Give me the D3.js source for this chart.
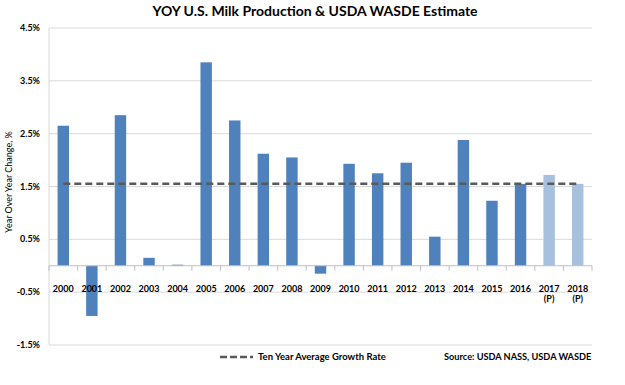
<!DOCTYPE html>
<html>
<head>
<meta charset="utf-8">
<script src="https://cdn.jsdelivr.net/npm/d3@7"></script>
<style>
  body { margin: 0; background: #fff; }
  text { font-family: Lato, "Open Sans", sans-serif; fill: #000; }
</style>
</head>
<body>
<svg width="625" height="385"></svg>
<script>
var years = ["2000","2001","2002","2003","2004","2005","2006","2007","2008","2009",
	"2010","2011","2012","2013","2014","2015","2016","2017","2018"];
var growth = [2.65,-0.95,2.85,0.15,0.02,3.85,2.75,2.12,2.05,-0.15,
	1.93,1.75,1.95,0.55,2.38,1.23,1.55,1.72,1.55];
var projected = ["2017","2018"];
var tenYearAvg = 1.55;
var yTicks = [4.5,3.5,2.5,1.5,0.5,-0.5,-1.5];

var svg = d3.select("svg");
var plotLeft = 49, plotRight = 592, plotTop = 28, plotBottom = 345;

var x = d3.scaleBand().domain(years).range([plotLeft, plotRight]).paddingInner(0.6).paddingOuter(0.3);
var y = d3.scaleLinear().domain([-1.5, 4.5]).range([plotBottom, plotTop]);

// gridlines
svg.append("g").selectAll("line").data(yTicks).enter().append("line")
	.attr("x1", plotLeft).attr("x2", plotRight)
	.attr("y1", function(d) { return y(d); })
	.attr("y2", function(d) { return y(d); })
	.attr("stroke", "#d9d9d9").attr("stroke-width", 1);

// y axis line
svg.append("line")
	.attr("x1", plotLeft).attr("x2", plotLeft).attr("y1", plotTop).attr("y2", plotBottom)
	.attr("stroke", "#d9d9d9");

// y labels
svg.append("g").selectAll("text").data(yTicks).enter().append("text")
	.attr("x", 40).attr("y", function(d) { return y(d) + 3; })
	.attr("text-anchor", "end")
	.style("font-size", "9px").style("font-weight", "bold")
	.text(function(d) { return d.toFixed(1) + "%"; });

// bars
svg.append("g").selectAll("rect").data(years).enter().append("rect")
	.attr("x", function(d) { return x(d); })
	.attr("width", x.bandwidth())
	.attr("y", function(d, i) { return y(Math.max(0, growth[i])); })
	.attr("height", function(d, i) { return Math.abs(y(growth[i]) - y(0)); })
	.attr("fill", function(d) { return projected.indexOf(d) >= 0 ? "#a7c0de" : "#4f81bd"; });

// zero axis + tick marks at category boundaries
svg.append("line")
	.attr("x1", plotLeft).attr("x2", plotRight).attr("y1", y(0)).attr("y2", y(0))
	.attr("stroke", "#bfbfbf");
var bounds = d3.range(years.length + 1).map(function(i) { return plotLeft + i * (plotRight - plotLeft) / years.length; });
svg.append("g").selectAll("line").data(bounds).enter().append("line")
	.attr("x1", function(d) { return d; }).attr("x2", function(d) { return d; })
	.attr("y1", y(0)).attr("y2", y(0) + 5)
	.attr("stroke", "#bfbfbf");

// x labels
var xl = svg.append("g").selectAll("text").data(years).enter().append("text")
	.attr("x", function(d) { return x(d) + x.bandwidth() / 2; })
	.attr("y", y(0) + 26)
	.attr("text-anchor", "middle")
	.style("font-size", "9px").style("font-weight", "bold");
xl.append("tspan").text(function(d) { return d; });
xl.filter(function(d) { return projected.indexOf(d) >= 0; })
	.append("tspan")
	.attr("x", function(d) { return x(d) + x.bandwidth() / 2; })
	.attr("dy", 10).text("(P)");

// average line, first bar centre to last bar centre
var half = x.bandwidth() / 2;
svg.append("line")
	.attr("x1", x(years[0]) + half).attr("x2", x(years[years.length - 1]) + half)
	.attr("y1", y(tenYearAvg)).attr("y2", y(tenYearAvg))
	.attr("stroke", "#595959").attr("stroke-width", 2.5)
	.attr("stroke-dasharray", "7,4");

// title
svg.append("text")
	.attr("x", 315).attr("y", 16).attr("text-anchor", "middle")
	.style("font-size", "14px").style("font-weight", "bold")
	.text("YOY U.S. Milk Production  & USDA WASDE Estimate");

// y axis title
svg.append("text")
	.attr("transform", "translate(12,182) rotate(-90)")
	.attr("text-anchor", "middle")
	.style("font-size", "9px")
	.text("Year Over Year Change, %");

// legend
svg.append("line")
	.attr("x1", 220).attr("x2", 253).attr("y1", 357).attr("y2", 357)
	.attr("stroke", "#595959").attr("stroke-width", 2.5)
	.attr("stroke-dasharray", "7,3");
svg.append("text")
	.attr("x", 258).attr("y", 360)
	.style("font-size", "9.5px").style("font-weight", "bold")
	.text("Ten Year Average Growth Rate");
svg.append("text")
	.attr("x", 444).attr("y", 360)
	.style("font-size", "9.2px").style("font-weight", "bold")
	.text("Source: USDA NASS, USDA WASDE");
</script>
</body>
</html>
